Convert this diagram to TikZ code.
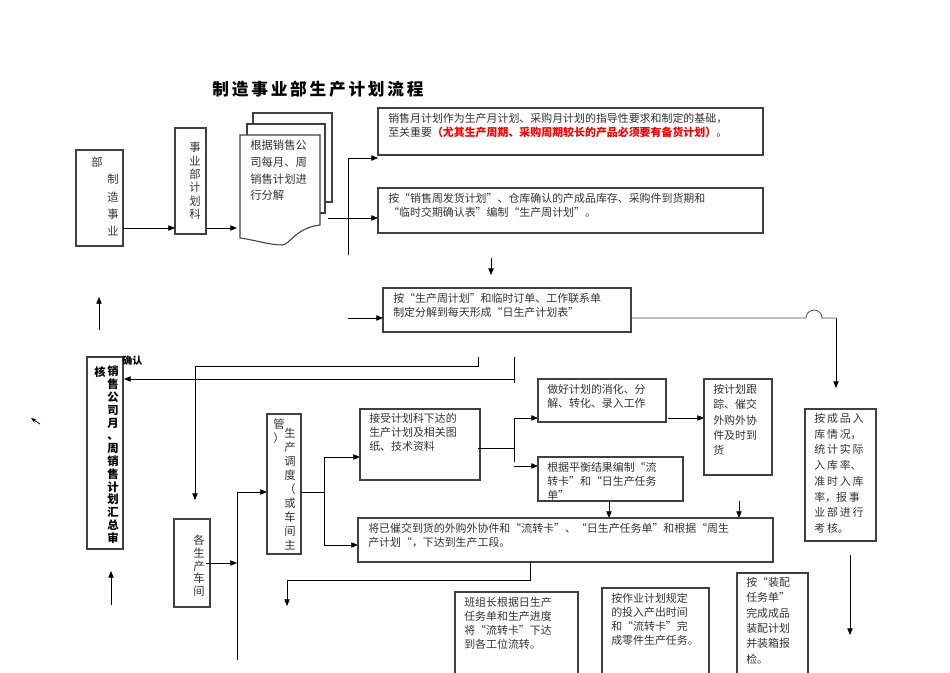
\documentclass[tikz,border=0pt]{standalone}
\usepackage{fontspec}
\setmainfont{Noto Sans CJK SC}
\usetikzlibrary{arrows.meta}
\begin{document}
\begin{tikzpicture}[x=0.75pt,y=-0.75pt,
  bx/.style={draw=black!75,line width=0.8pt},
  ln/.style={draw=black,line width=0.6pt},
  ar/.style={ln,-{Triangle[length=5pt,width=4pt]}},
  tx/.style={anchor=north west,inner sep=0pt,align=left,font=\fontsize{8.2}{10.5}\selectfont,text=black!80},
  vt/.style={anchor=north,inner sep=0pt,align=center,font=\fontsize{8.5}{10}\selectfont,text=black!80}]
\useasboundingbox (0,0) rectangle (950,672);
\node[font=\fontsize{12.5}{14}\bfseries\selectfont] (title) at (318,89) {制\,造\,事\,业\,部\,生\,产\,计\,划\,流\,程};
% left column
\draw[bx] (76,150) rectangle (123,246);
\node[vt] (a1) at (97,157) {部};
\node[vt,font=\fontsize{8.5}{13}\selectfont] (a2) at (113,174) {制\\造\\事\\业};
\draw[bx] (175,128) rectangle (206,234);
\node[vt] (b1) at (195,142) {事\\业\\部\\计\\划\\科};
\coordinate (ab1) at (123,228); \coordinate (ab2) at (175,228);
\draw[ar] (ab1) -- (ab2);
\coordinate (bc1) at (206,228); \coordinate (bc2) at (237,228);
\draw[ar] (bc1) -- (bc2);
% document stack
\draw[bx,fill=white] (253,113) rectangle (332,202);
\draw[bx,fill=white] (247,124) rectangle (325,213);
\draw[bx,fill=white] (240,135) -- (320,135) -- (320,225) .. controls (295,228) and (290,245) .. (282,245) .. controls (270,245) and (255,240) .. (240,238) -- cycle;
\node[tx,font=\fontsize{8.5}{12.5}\selectfont] (doc) at (250,140) {根据销售公\\司每月、周\\销售计划进\\行分解};
% top boxes
\draw[bx] (378,108) rectangle (763,155);
\node[tx] (c) at (388,113) {销售月计划作为生产月计划、采购月计划的指导性要求和制定的基础，\\至关重要\textcolor{red}{\bfseries （尤其生产周期、采购周期较长的产品必须要有备货计划）}。};
\draw[bx] (378,188) rectangle (763,233);
\node[tx] (d) at (388,193) {按“销售周发货计划”、仓库确认的产成品库存、采购件到货期和\\“临时交期确认表”编制“生产周计划”。};
\draw[ln] (348,158) -- (348,255);
\draw[ar] (348,158) -- (378,158);
\draw[ar] (328,218) -- (378,218);
\draw[ar] (491,258) -- (491,275);
\draw[bx] (383,288) rectangle (631,332);
\node[tx] (e) at (393,293) {按“生产周计划”和临时订单、工作联系单\\制定分解到每天形成“日生产计划表”};
\draw[ar] (348,318) -- (383,318);
\draw[ln,black!70] (631,318) -- (806,318) arc[start angle=180,end angle=360,radius=8] -- (836,318);
\draw[ar] (836,318) -- (836,388);
\draw[bx] (805,409) rectangle (876,541);
\node[tx,font=\fontsize{8.2}{11.8}\selectfont] (f) at (814,413) {按\,成\,品\,入\\库\,情\,况，\\统\,计\,实\,际\\入\,库\,率、\\准\,时\,入\,库\\率，报\,事\\业\,部\,进\,行\\考\,核。};
\draw[ar] (850,555) -- (850,635);
% sales summary
\draw[bx] (87,357) rectangle (123,549);
\node[vt,font=\fontsize{8.5}{9.6}\bfseries\selectfont,text=black] (g1) at (100,366) {核};
\node[vt,font=\fontsize{8.5}{9.6}\bfseries\selectfont,text=black] (g2) at (113,366) {销\\售\\公\\司\\月\\、\\周\\销\\售\\计\\划\\汇\\总\\审};
\node[tx,font=\fontsize{7.5}{9}\bfseries\selectfont,text=black] (qr) at (122,356) {确认};
\draw[ar] (99,330) -- (99,297);
\draw[ar] (111,605) -- (111,571);
\draw[ln,-{Stealth[length=4pt]}] (40,424) -- (31,418);
\draw[ln] (478,357) -- (478,366) -- (195,366);
\draw[ar] (195,366) -- (195,500);
\draw[ln] (514,357) -- (514,383);
\draw[ar] (514,379) -- (124,379);
% workshops
\draw[bx] (174,519) rectangle (210,607);
\node[vt,font=\fontsize{8.5}{9.5}\selectfont] (h) at (199,535) {各\\生\\产\\车\\间};
\draw[ar] (206,563) -- (237,563);
\draw[ln] (237,492) -- (237,660);
\draw[ar] (237,492) -- (267,492);
\draw[bx] (267,414) rectangle (301,554);
\node[vt,font=\fontsize{8.5}{10.5}\selectfont] (i1) at (279,419) {管\\）};
\node[vt,font=\fontsize{8.5}{10.5}\selectfont] (i2) at (290,428) {生\\产\\调\\度\\（\\或\\车\\间\\主};
\draw[ln] (301,492) -- (324,492);
\draw[ln] (324,457) -- (324,545);
\draw[ar] (324,457) -- (360,457);
\draw[ar] (324,545) -- (358,545);
\draw[bx] (360,409) rectangle (480,480);
\node[tx] (j) at (369,413) {接受计划科下达的\\生产计划及相关图\\纸、技术资料};
\draw[ln] (478,448) -- (514,448);
\draw[ln] (514,418) -- (514,462);
\draw[ar] (514,418) -- (538,418);
\draw[ar] (514,466) -- (538,466);
\draw[bx] (538,379) rectangle (666,422);
\node[tx] (k) at (547,384) {做好计划的消化、分\\解、转化、录入工作};
\draw[ar] (668,418) -- (704,418);
\draw[bx] (704,379) rectangle (772,475);
\node[tx,font=\fontsize{8.2}{11.5}\selectfont] (l) at (713,384) {按计划跟\\踪、催交\\外购外协\\件及时到\\货};
\draw[bx] (538,457) rectangle (683,501);
\node[tx] (m) at (547,462) {根据平衡结果编制“流\\转卡”和“日生产任务\\单”};
\draw[ar] (609,501) -- (609,518);
\draw[ar] (739,501) -- (739,518);
\draw[bx] (358,518) rectangle (773,562);
\node[tx] (n) at (368,523) {将已催交到货的外购外协件和“流转卡”、“日生产任务单”和根据“周生\\产计划“，下达到生产工段。};
\draw[ln] (530,562) -- (530,580) -- (287,580);
\draw[ar] (287,580) -- (287,606);
\draw[bx] (455,592) rectangle (578,674);
\node[tx] (o) at (464,597) {班组长根据日生产\\任务单和生产进度\\将“流转卡”下达\\到各工位流转。};
\draw[bx] (602,588) rectangle (709,674);
\node[tx] (p) at (611,593) {按作业计划规定\\的投入产出时间\\和“流转卡”完\\成零件生产任务。};
\draw[bx] (737,573) rectangle (808,674);
\node[tx,font=\fontsize{8.2}{11.5}\selectfont] (q) at (746,577) {按“装配\\任务单”\\完成成品\\装配计划\\并装箱报\\检。};
\end{tikzpicture}
\end{document}
